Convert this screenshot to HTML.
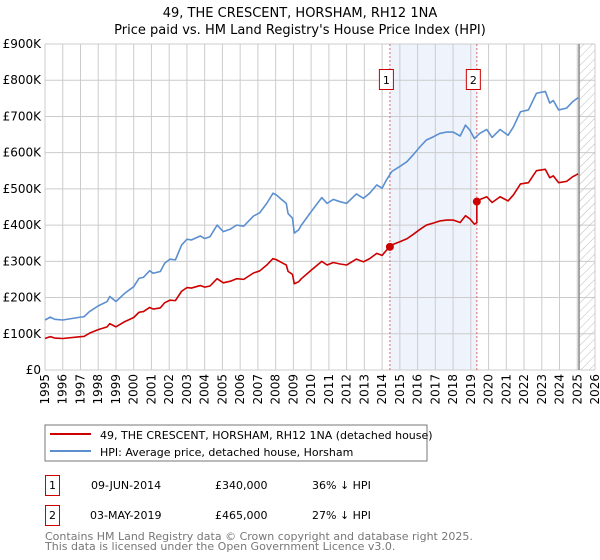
<!DOCTYPE html>
<html><head><meta charset="utf-8"><style>
body{margin:0;width:600px;height:560px;background:#fff;font-family:"DejaVu Sans","Liberation Sans",sans-serif;overflow:hidden}
svg{position:absolute;left:0;top:0}
</style></head><body>
<svg id="chart" width="600" height="560">
<defs><pattern id="hatch" width="6" height="6" patternUnits="userSpaceOnUse" patternTransform="rotate(45)"><line x1="0" y1="0" x2="0" y2="6" stroke="#bbb" stroke-width="1"/></pattern></defs>
<text x="300" y="17" text-anchor="middle" font-size="13">49, THE CRESCENT, HORSHAM, RH12 1NA</text>
<text x="300" y="34" text-anchor="middle" font-size="13">Price paid vs. HM Land Registry's House Price Index (HPI)</text>
<g id="grid"></g><g id="marks"></g><g id="axes"></g>
<rect x="45" y="425" width="382" height="36" fill="#fff" stroke="#777"/>
<line x1="50" y1="434" x2="91" y2="434" stroke="#cc0000" stroke-width="2"/>
<text x="100" y="439" font-size="11">49, THE CRESCENT, HORSHAM, RH12 1NA (detached house)</text>
<line x1="50" y1="451" x2="91" y2="451" stroke="#5b8fd0" stroke-width="2"/>
<text x="100" y="456" font-size="11">HPI: Average price, detached house, Horsham</text>
<g font-size="11">
<rect x="45.5" y="475.5" width="14" height="20" fill="#fff" stroke="#cc0000"/>
<text x="52.5" y="489" text-anchor="middle">1</text>
<text x="91" y="489">09-JUN-2014</text>
<text x="215" y="489">£340,000</text>
<text x="312" y="489">36% ↓ HPI</text>
<rect x="45.5" y="505.5" width="14" height="20" fill="#fff" stroke="#cc0000"/>
<text x="52.5" y="519" text-anchor="middle">2</text>
<text x="90" y="519">03-MAY-2019</text>
<text x="215" y="519">£465,000</text>
<text x="312" y="519">27% ↓ HPI</text>
</g>
<text x="45" y="540" font-size="11" fill="#777">Contains HM Land Registry data © Crown copyright and database right 2025.</text>
<text x="45" y="550" font-size="11" fill="#777">This data is licensed under the Open Government Licence v3.0.</text>
</svg>
<script>
const hpiYears=[1995.0,1995.3,1995.55,1996.0,1997.0,1997.2,1997.5,1998.0,1998.5,1998.65,1999.0,1999.5,2000.0,2000.3,2000.55,2000.9,2001.1,2001.5,2001.75,2002.05,2002.35,2002.7,2003.0,2003.25,2003.75,2004.0,2004.3,2004.7,2005.05,2005.45,2005.8,2006.2,2006.75,2007.1,2007.5,2007.85,2008.05,2008.35,2008.6,2008.7,2008.95,2009.05,2009.3,2009.45,2010.0,2010.6,2010.9,2011.25,2011.6,2012.0,2012.55,2012.95,2013.3,2013.7,2014.0,2014.25,2014.55,2015.0,2015.4,2015.75,2016.15,2016.5,2016.9,2017.25,2017.65,2018.0,2018.4,2018.7,2018.95,2019.2,2019.5,2019.9,2020.2,2020.65,2021.1,2021.4,2021.8,2022.25,2022.7,2023.2,2023.45,2023.65,2023.95,2024.4,2024.75,2025.05];
const hpiValues=[138,146,140,138,146,147,161,177,189,203,189,212,230,253,256,274,267,272,295,306,304,345,361,359,370,363,368,400,382,389,400,397,425,434,460,488,483,470,460,432,419,378,387,400,437,476,460,471,465,460,486,474,488,511,502,525,548,562,575,594,617,635,644,653,657,657,646,676,662,639,653,664,642,664,648,671,713,718,764,769,737,744,718,723,741,752];
const saleYears=[2014.44,2019.34];
const salePrices=[340,465];
const saleLabels=["1","2"];
const yTicks=[0,100,200,300,400,500,600,700,800,900];
const yTickLabels=["£0","£100K","£200K","£300K","£400K","£500K","£600K","£700K","£800K","£900K"];
const xTickYears=[1995,1996,1997,1998,1999,2000,2001,2002,2003,2004,2005,2006,2007,2008,2009,2010,2011,2012,2013,2014,2015,2016,2017,2018,2019,2020,2021,2022,2023,2024,2025,2026];
const dataEnd=2025.1;

const X0=45,X1=595,Y0=370,Y1=44;
const xs=y=>X0+(y-1995)/(2026-1995)*(X1-X0);
const ys=v=>Y0-v/900*(Y0-Y1);
const NS="http://www.w3.org/2000/svg";
function mk(tag,attrs,parent){const e=document.createElementNS(NS,tag);for(const k in attrs)e.setAttribute(k,attrs[k]);parent.appendChild(e);return e;}
const grid=document.getElementById('grid'),marks=document.getElementById('marks'),axes=document.getElementById('axes');
function hpiAt(t){for(let i=0;i<hpiYears.length-1;i++){if(t>=hpiYears[i]&&t<=hpiYears[i+1]){const f=(t-hpiYears[i])/(hpiYears[i+1]-hpiYears[i]);return hpiValues[i]+f*(hpiValues[i+1]-hpiValues[i]);}}return hpiValues[hpiValues.length-1];}

let sh=mk('rect',{x:xs(saleYears[0]),y:Y1,width:xs(saleYears[1])-xs(saleYears[0]),height:Y0-Y1,fill:'#eef3fc'},grid);


yTicks.forEach((v,i)=>{
 let l=mk('line',{x1:X0,x2:X1,y1:ys(v),y2:ys(v),stroke:'#ccc'},grid);
 
 
 let t=mk('text',{x:X0-4,y:ys(v)+4,'text-anchor':'end','font-size':'12'},axes);
 t.textContent=yTickLabels[i];
 
 
});
xTickYears.forEach(yr=>{
 let l=mk('line',{x1:xs(yr),x2:xs(yr),y1:Y1,y2:Y0,stroke:'#ccc'},grid);
 
 
 const tx=xs(yr)+4, ty=Y0+4;
 let t=mk('text',{x:tx,y:ty,'text-anchor':'end','font-size':'12',transform:'rotate(-90 '+tx+' '+ty+')'},axes);
 t.textContent=yr;
 
 
});
let hz=mk('rect',{x:xs(dataEnd),y:Y1,width:X1-xs(dataEnd),height:Y0-Y1,fill:'url(#hatch)'},grid);


let hl=mk('line',{x1:xs(dataEnd),x2:xs(dataEnd),y1:Y1,y2:Y0,stroke:'#888','stroke-width':1.5},grid);


saleYears.forEach((sy,i)=>{
 let l=mk('line',{x1:xs(sy),x2:xs(sy),y1:Y1,y2:Y0,stroke:'#e06666','stroke-dasharray':'2,2'},marks);
 
 
 let b=mk('rect',{x:xs(sy)-10.5,y:69.5,width:14,height:20,fill:'#fff',stroke:'#cc0000'},marks);
 
 
 let t=mk('text',{x:xs(sy)-3.5,y:84,'text-anchor':'middle','font-size':'11'},marks);
 t.textContent=saleLabels[i];
 
 
});
let hp=mk('polyline',{points:hpiYears.map((y,i)=>xs(y)+','+ys(hpiValues[i])).join(' '),fill:'none',stroke:'#5b8fd0','stroke-width':1.6,'stroke-linejoin':'round'},marks);


const f1=salePrices[0]/hpiAt(saleYears[0]),f2=salePrices[1]/hpiAt(saleYears[1]);
const pts=[];
hpiYears.forEach((y,i)=>{ if(y<saleYears[1]) pts.push([y,hpiValues[i]*f1]); });
pts.push([saleYears[1],hpiAt(saleYears[1])*f1]);
pts.push([saleYears[1],salePrices[1]]);
hpiYears.forEach((y,i)=>{ if(y>saleYears[1]) pts.push([y,hpiValues[i]*f2]); });
let pl=mk('polyline',{points:pts.map(p=>xs(p[0])+','+ys(p[1])).join(' '),fill:'none',stroke:'#cc0000','stroke-width':1.6,'stroke-linejoin':'round'},marks);


saleYears.forEach((sy,i)=>{
 let c=mk('circle',{cx:xs(sy),cy:ys(salePrices[i]),r:4,fill:'#cc0000'},marks);
 
 
});
</script>
</body></html>
